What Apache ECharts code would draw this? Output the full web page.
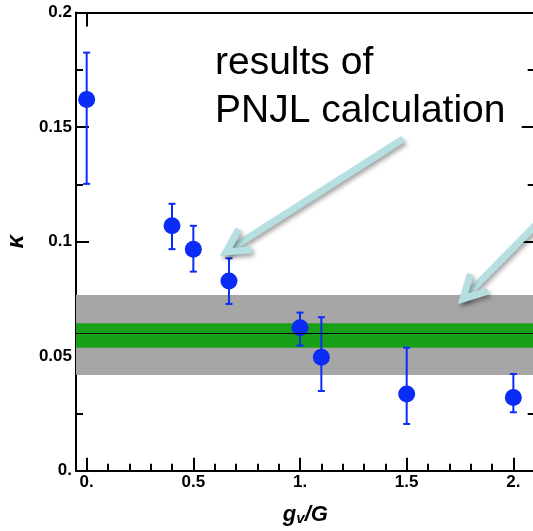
<!DOCTYPE html>
<html>
<head>
<meta charset="utf-8">
<script src="https://cdn.jsdelivr.net/npm/echarts@6/dist/echarts.min.js"></script>
<style>html,body{margin:0;padding:0;background:#fff;}#c{width:533px;height:531px;}</style>
</head>
<body>
<div id="c"></div>
<script>
// ---- data ----
const gv = [0, 0.4, 0.5, 0.667, 1.0, 1.1, 1.5, 2.0];
const kappa = [0.162, 0.1069, 0.0967, 0.0828, 0.0624, 0.0495, 0.0335, 0.032];
const errLow = [0.1252, 0.0967, 0.0869, 0.0728, 0.0546, 0.0348, 0.0204, 0.0255];
const errHigh = [0.1825, 0.1165, 0.1069, 0.0927, 0.069, 0.067, 0.0537, 0.0422];
const grayBand = [0.0418, 0.0767];
const greenBand = [0.0537, 0.0644];
const centerLine = 0.0588;
const xMajorTicks = [0, 0.5, 1, 1.5, 2];
const xMinorTicks = [0.1,0.2,0.3,0.4,0.6,0.7,0.8,0.9,1.1,1.2,1.3,1.4,1.6,1.7,1.8,1.9,2.1];
const xTopTicks = [0];
const annotationLines = ['results of', 'PNJL calculation'];
// arrows: [tail, tip] in data coordinates
const arrows = [
  [[1.483, 0.1448], [0.653, 0.0955]],
  [[2.219, 0.118], [1.764, 0.075]]
];

const fmt = v => Number.isInteger(v) ? v + '.' : String(+v.toFixed(3));
const BLUE = '#0b2cf7';
const lblFont = {fontFamily: 'Liberation Sans, Arial, sans-serif', fontWeight: 'bold', color: '#000'};

const chart = echarts.init(document.getElementById('c'), null, {renderer: 'canvas'});
const points = gv.map((x, i) => [x, kappa[i]]);
const bars = gv.map((x, i) => [x, errLow[i], errHigh[i]]);

const axisLine = {show: true, onZero: false, lineStyle: {color: '#000', width: 2}};
chart.setOption({
  animation: false,
  backgroundColor: '#fff',
  grid: {left: 76, right: -1.7, top: 12.5, bottom: 60.3, containLabel: false, outerBoundsMode: 'none'},
  xAxis: [
    {type: 'value', min: -0.05, max: 2.1, position: 'bottom',
     axisLine: axisLine, splitLine: {show: false},
     axisTick: {show: true, inside: true, length: 13, lineStyle: {color: '#000', width: 2}, customValues: xMajorTicks},
     axisLabel: Object.assign({show: true, fontSize: 17, margin: 3, formatter: fmt, customValues: xMajorTicks}, lblFont),
     name: '{g|g}{v|v}{s|/G}', nameLocation: 'middle', nameGap: 33,
     nameTextStyle: {rich: {
       g: {fontSize: 22, fontStyle: 'italic', fontWeight: 'bold', fontFamily: 'Liberation Sans, Arial', color: '#000'},
       v: {fontSize: 15, fontStyle: 'italic', fontWeight: 'bold', fontFamily: 'Liberation Sans, Arial', color: '#000', padding: [8, 0, 0, 0]},
       s: {fontSize: 22, fontStyle: 'italic', fontWeight: 'bold', fontFamily: 'Liberation Sans, Arial', color: '#000'}
     }}},
    {type: 'value', min: -0.05, max: 2.1, position: 'bottom',
     axisLine: {show: false}, splitLine: {show: false}, axisLabel: {show: false},
     axisTick: {show: true, inside: true, length: 7, lineStyle: {color: '#000', width: 2}, customValues: xMinorTicks}},
    {type: 'value', min: -0.05, max: 2.1, position: 'top',
     axisLine: axisLine, splitLine: {show: false}, axisLabel: {show: false},
     axisTick: {show: true, inside: true, length: 14, lineStyle: {color: '#000', width: 2}, customValues: xTopTicks}}
  ],
  yAxis: [
    {type: 'value', min: 0, max: 0.2, interval: 0.05, position: 'left',
     axisLine: axisLine, splitLine: {show: false},
     axisTick: {show: true, inside: true, length: 13, lineStyle: {color: '#000', width: 2}},
     minorTick: {show: true, splitNumber: 2, length: 7, lineStyle: {color: '#000', width: 2}},
     axisLabel: Object.assign({fontSize: 17, margin: 4, formatter: fmt}, lblFont),
     name: 'κ', nameLocation: 'middle', nameGap: 48, nameRotate: 90,
     nameTextStyle: {fontSize: 24, fontStyle: 'italic', fontWeight: 'bold', fontFamily: 'Liberation Sans, Arial', color: '#000'}},
    {type: 'value', min: 0, max: 0.2, interval: 0.05, position: 'right',
     axisLine: axisLine, splitLine: {show: false}, axisLabel: {show: false},
     axisTick: {show: true, inside: true, length: 13, lineStyle: {color: '#000', width: 2}},
     minorTick: {show: true, splitNumber: 2, length: 7, lineStyle: {color: '#000', width: 2}}}
  ],
  series: [
    {type: 'scatter', data: [], z: 1, silent: true,
     markArea: {silent: true, label: {show: false}, data: [
       [{yAxis: grayBand[0], itemStyle: {color: '#a6a6a6'}}, {yAxis: grayBand[1]}],
       [{yAxis: greenBand[0], itemStyle: {color: '#18a018'}}, {yAxis: greenBand[1]}]
     ]},
     markLine: {silent: true, symbol: 'none', label: {show: false},
       lineStyle: {color: '#000', width: 1, type: 'solid'}, data: [{yAxis: centerLine}]}},
    {type: 'custom', z: 3, data: bars,
     renderItem: function (params, api) {
       const x = api.value(0);
       const lo = api.coord([x, api.value(1)]);
       const hi = api.coord([x, api.value(2)]);
       const cw = 3.5;
       const st = {stroke: BLUE, lineWidth: 2};
       return {type: 'group', children: [
         {type: 'line', shape: {x1: lo[0], y1: lo[1], x2: hi[0], y2: hi[1]}, style: st},
         {type: 'line', shape: {x1: lo[0]-cw, y1: lo[1], x2: lo[0]+cw, y2: lo[1]}, style: st},
         {type: 'line', shape: {x1: hi[0]-cw, y1: hi[1], x2: hi[0]+cw, y2: hi[1]}, style: st}
       ]};
     }},
    {type: 'scatter', z: 4, data: points, symbol: 'circle', symbolSize: 17,
     itemStyle: {color: BLUE, opacity: 1}}
  ]
});

function buildGraphics() {
  const g = [];
  const ARROW = '#b5dfe1';
  const shadow = {shadowColor: 'rgba(0,0,0,0.35)', shadowBlur: 4, shadowOffsetX: 2, shadowOffsetY: 3};
  arrows.forEach(a => {
    const tail = chart.convertToPixel({xAxisIndex: 0, yAxisIndex: 0}, a[0]);
    const tip = chart.convertToPixel({xAxisIndex: 0, yAxisIndex: 0}, a[1]);
    const ang = Math.atan2(tail[1] - tip[1], tail[0] - tip[0]);
    const L = 26, spread = 28 * Math.PI / 180;
    const w1 = [tip[0] + L * Math.cos(ang - spread), tip[1] + L * Math.sin(ang - spread)];
    const w2 = [tip[0] + L * Math.cos(ang + spread), tip[1] + L * Math.sin(ang + spread)];
    const st = Object.assign({stroke: ARROW, lineWidth: 7, fill: 'none', lineJoin: 'miter', lineCap: 'butt'}, shadow);
    g.push({type: 'polyline', z: 10, shape: {points: [tip, tail]}, style: st});
    g.push({type: 'polyline', z: 10, shape: {points: [w1, tip, w2]}, style: st});
  });
  const ys = [63, 111];
  annotationLines.forEach((t, i) => {
    g.push({type: 'text', z: 11, x: 215, y: ys[i], style: {text: t, fontSize: 39,
      fontFamily: 'Liberation Sans, Arial, sans-serif', fill: '#000', align: 'left', verticalAlign: 'middle'}});
  });
  chart.setOption({graphic: g});
}
buildGraphics();
</script>
</body>
</html>
